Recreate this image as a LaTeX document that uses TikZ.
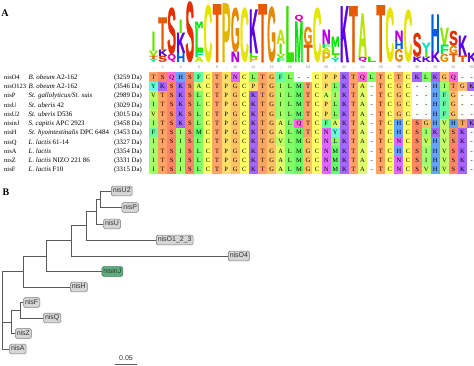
\documentclass[tikz,border=0pt]{standalone}
\usepackage{fontspec}
\setmainfont{Liberation Serif}
\setsansfont{Liberation Sans}
\newfontfamily\logofont[BoldFeatures={FakeBold=1.5}]{Liberation Sans}
\usepackage{graphicx}
\definecolor{tA}{HTML}{CCFF00}
\definecolor{tC}{HTML}{FFFF00}
\definecolor{tF}{HTML}{00FF66}
\definecolor{tG}{HTML}{FF9900}
\definecolor{tH}{HTML}{0066FF}
\definecolor{tI}{HTML}{66FF00}
\definecolor{tK}{HTML}{6600FF}
\definecolor{tL}{HTML}{33FF00}
\definecolor{tM}{HTML}{00FF00}
\definecolor{tN}{HTML}{CC00FF}
\definecolor{tP}{HTML}{FFCC00}
\definecolor{tQ}{HTML}{FF00CC}
\definecolor{tS}{HTML}{FF3300}
\definecolor{tT}{HTML}{FF6600}
\definecolor{tV}{HTML}{99FF00}
\definecolor{tY}{HTML}{00FFCC}
\definecolor{branchc}{HTML}{5A5A5A}
\definecolor{leaff}{HTML}{D6D6D6}
\definecolor{leafd}{HTML}{7A7A7A}
\definecolor{greenf}{HTML}{5FAE7E}
\definecolor{greend}{HTML}{3C7A55}
\tikzset{
  cell/.style={inner sep=0pt, minimum width=9.3pt, minimum height=9.45pt,
    text height=4.4pt, text depth=0pt, font=\fontsize{6.5}{7}\selectfont},
  lbl/.style={inner sep=0pt, anchor=base west, font=\fontsize{6.5}{7}\selectfont},
  spc/.style={inner sep=0pt, anchor=base west, font=\fontsize{6.9}{7}\selectfont},
  da/.style={inner sep=0pt, anchor=base east, font=\fontsize{6.8}{7}\selectfont},
  leaf/.style={anchor=west, draw=leafd, fill=leaff, rounded corners=1.5pt,
    line width=0.5pt, inner xsep=1.5pt, inner ysep=1.6pt, text height=5pt,
    text depth=1.4pt, text=black!80, font=\fontsize{7}{7}\sffamily\selectfont},
  branch/.style={draw=branchc, line width=0.8pt},
  panel/.style={inner sep=0pt, font=\fontsize{10}{11}\selectfont\bfseries},
  num/.style={inner sep=0pt, text=black!45, font=\fontsize{3.8}{4}\sffamily\selectfont}
}
\newcommand\alnrow[2]{%
  \foreach \aa [count=\ci] in {#2} {%
    \pgfmathsetmacro\cx{153.5+(\ci-1)*9.09}%
    \pgfmathsetmacro\cy{77+#1*9.25}%
    \if\aa x
      \node[cell, fill=white] (r#1c\ci) at (\cx,\cy) {-};
    \else
      \node[cell, fill=t\aa!60] (r#1c\ci) at (\cx,\cy) {\aa};
    \fi
  }}
\newcommand\logoL[5][8.8]{%
  \pgfmathsetmacro\lgx{153.5+(#2-1)*9.09}%
  \pgfmathsetlengthmacro\lgh{(#4-#3)*1pt}%
  \node[inner sep=0pt, anchor=south, text=t#5!90!black] (lg#2#5) at (\lgx,#4)
    {\resizebox*{#1pt}{\lgh}{\logofont\bfseries #5}};}
\begin{document}
\begin{tikzpicture}[x=1pt,y=-1pt]
\useasboundingbox (0,0) rectangle (474,366);
% panel labels
\node[panel] (pA) at (5,13.5) {A};
\node[panel] (pB) at (6,192) {B};
% ---------- logo ----------
\logoL[3.6]{1}{32}{51}{I}\logoL{1}{51}{56}{V}\logoL{1}{56}{59}{T}\logoL{1}{59}{62}{Y}
\logoL{2}{18}{50}{T}\logoL{2}{50}{56}{K}\logoL{2}{56}{62}{S}
\logoL{3}{8}{54}{S}\logoL{3}{54}{62}{Q}
\logoL[3.6]{4}{20}{33}{I}\logoL{4}{33}{53}{K}\logoL{4}{53}{62}{H}
\logoL{5}{2}{62}{S}
\logoL{6}{22}{28}{M}\logoL{6}{28}{52}{L}\logoL{6}{52}{57}{F}\logoL{6}{57}{62}{A}
\logoL{7}{5}{62}{C}
\logoL{8}{5}{62}{T}
\logoL{9}{4}{62}{P}
\logoL{10}{8}{52}{G}\logoL{10}{52}{62}{N}
\logoL{11}{8}{62}{C}
\logoL{12}{10}{53}{K}\logoL{12}{53}{57}{L}\logoL{12}{57}{62}{P}
\logoL{13}{5}{62}{T}
\logoL{14}{7}{62}{G}
\logoL{15}{30}{44}{A}\logoL[3.6]{15}{44}{54}{I}\logoL{15}{54}{58}{V}\logoL{15}{58}{62}{F}
\logoL{16}{7}{62}{L}
\logoL{17}{15}{22}{Q}\logoL{17}{22}{62}{M}
\logoL{18}{27}{45}{G}\logoL{18}{45}{62}{T}
\logoL{19}{8}{62}{C}
\logoL{20}{30}{44}{N}\logoL{20}{44}{48}{F}\logoL{20}{48}{52}{A}\logoL{20}{52}{62}{P}
\logoL{21}{37}{47}{M}\logoL{21}{47}{55}{L}\logoL[3.6]{21}{55}{58}{I}\logoL{21}{58}{62}{Y}
\logoL{22}{7}{62}{K}
\logoL{23}{7}{62}{T}
\logoL{24}{14}{57}{A}\logoL{24}{57}{62}{Q}
\logoL{25}{57}{62}{L}
\logoL{26}{6}{62}{T}
\logoL{27}{8}{62}{C}
\logoL{28}{31}{41}{N}\logoL{28}{41}{49}{H}\logoL{28}{49}{62}{G}
\logoL{29}{10}{62}{C}
\logoL{30}{33}{57}{S}\logoL{30}{57}{62}{K}
\logoL{31}{43}{52}{Y}\logoL[3.6]{31}{52}{57}{I}\logoL{31}{57}{62}{K}
\logoL{32}{15}{52}{H}\logoL{32}{52}{62}{K}
\logoL{33}{28}{45}{V}\logoL{33}{45}{54}{F}\logoL{33}{54}{62}{G}
\logoL{34}{31}{46}{S}\logoL{34}{46}{54}{G}\logoL{34}{54}{62}{T}
\logoL{35}{36}{56}{K}\logoL{35}{56}{62}{T}
\logoL{36}{53}{62}{K}
\foreach \k in {2,4,...,36} {
  \pgfmathsetmacro\nx{153.5+(\k-1)*9.09}
  \node[num] (num\k) at (\nx,67) {\k};
}
\foreach \k in {1,3,...,35} {
  \pgfmathsetmacro\nx{153.5+(\k-1)*9.09}
  \fill[black!40] (\nx,67.8) circle (0.35pt);
}
% ---------- alignment ----------
\alnrow{0}{T,S,Q,H,S,F,C,T,P,N,C,L,T,G,F,L,x,x,C,P,P,K,T,Q,L,T,C,T,C,K,L,K,G,Q,x,x}
\alnrow{1}{Y,K,S,K,S,A,C,T,P,G,C,P,T,G,I,L,M,T,C,P,L,K,T,A,x,T,C,G,C,x,x,H,I,T,G,K}
\alnrow{2}{V,T,S,K,S,L,C,T,P,G,C,K,T,G,I,L,M,T,C,A,I,K,T,A,x,T,C,G,C,x,x,H,F,G,x,x}
\alnrow{3}{I,T,S,K,S,L,C,T,P,G,C,K,T,G,I,L,M,T,C,P,L,K,T,A,x,T,C,G,C,x,x,H,F,G,x,x}
\alnrow{4}{V,T,S,K,S,L,C,T,P,G,C,K,T,G,I,L,M,T,C,P,L,K,T,A,x,T,C,G,C,x,x,H,F,G,x,x}
\alnrow{5}{I,T,S,K,S,L,C,T,P,G,C,K,T,G,A,L,Q,T,C,F,A,K,T,A,x,T,C,H,C,S,G,H,V,H,T,K}
\alnrow{6}{F,T,S,I,S,M,C,T,P,G,C,K,T,G,A,L,M,T,C,N,Y,K,T,A,x,T,C,H,C,S,I,K,V,S,K,x}
\alnrow{7}{I,T,S,I,S,L,C,T,P,G,C,K,T,G,V,L,M,G,C,N,L,K,T,A,x,T,C,N,C,S,V,H,V,S,K,x}
\alnrow{8}{I,T,S,I,S,L,C,T,P,G,C,K,T,G,A,L,M,G,C,N,M,K,T,A,x,T,C,H,C,S,I,H,V,S,K,x}
\alnrow{9}{I,T,S,I,S,L,C,T,P,G,C,K,T,G,A,L,M,G,C,N,M,K,T,A,x,T,C,N,C,S,I,H,V,S,K,x}
\alnrow{10}{I,T,S,I,S,L,C,T,P,G,C,K,T,G,A,L,M,G,C,N,M,K,T,A,x,T,C,N,C,S,V,H,V,S,K,x}
% row labels
\node[lbl] (g0) at (4,79.3) {nisO4};
\node[spc] (s0) at (28.5,79.3) {\textit{B. obeum} A2-162};
\node[da] (d0) at (142,79.3) {(3259 Da)};
\node[lbl] (g1) at (4,88.55) {nisO123};
\node[spc] (s1) at (28.5,88.55) {\textit{B. obeum} A2-162};
\node[da] (d1) at (142,88.55) {(3546 Da)};
\node[lbl] (g2) at (4,97.8) {nisP};
\node[spc] (s2) at (28.5,97.8) {\textit{St. gallolyticus/St. suis}};
\node[da] (d2) at (142,97.8) {(2989 Da)};
\node[lbl] (g3) at (4,107.05) {nisU};
\node[spc] (s3) at (28.5,107.05) {\textit{St. uberis} 42};
\node[da] (d3) at (142,107.05) {(3029 Da)};
\node[lbl] (g4) at (4,116.3) {nisU2};
\node[spc] (s4) at (28.5,116.3) {\textit{St. uberis} D536};
\node[da] (d4) at (142,116.3) {(3015 Da)};
\node[lbl] (g5) at (4,125.55) {nisinJ};
\node[spc] (s5) at (28.5,125.55) {\textit{S. capitis} APC 2923};
\node[da] (d5) at (142,125.55) {(3458 Da)};
\node[lbl] (g6) at (4,134.8) {nisH};
\node[spc] (s6) at (28.5,134.8) {\textit{St. hyointestinalis} DPC 6484};
\node[da] (d6) at (142,134.8) {(3453 Da)};
\node[lbl] (g7) at (4,144.05) {nisQ};
\node[spc] (s7) at (28.5,144.05) {\textit{L. lactis} 61-14};
\node[da] (d7) at (142,144.05) {(3327 Da)};
\node[lbl] (g8) at (4,153.3) {nisA};
\node[spc] (s8) at (28.5,153.3) {\textit{L. lactis}};
\node[da] (d8) at (142,153.3) {(3354 Da)};
\node[lbl] (g9) at (4,162.55) {nisZ};
\node[spc] (s9) at (28.5,162.55) {\textit{L. lactis} NIZO 221 86};
\node[da] (d9) at (142,162.55) {(3331 Da)};
\node[lbl] (g10) at (4,171.8) {nisF};
\node[spc] (s10) at (28.5,171.8) {\textit{L. lactis} F10};
\node[da] (d10) at (142,171.8) {(3315 Da)};
% ---------- tree ----------
\node[leaf] (nisU2) at (111,191) {nisU2};
\node[leaf] (nisP) at (121.7,207.5) {nisP};
\node[leaf] (nisU) at (103.3,224) {nisU};
\node[leaf] (nisO123) at (156,240) {nisO1\_2\_3};
\node[leaf] (nisO4) at (228,256) {nisO4};
\node[leaf, fill=greenf, draw=greend] (nisinJ) at (101.7,271.5) {nisinJ};
\node[leaf] (nisH) at (70,287) {nisH};
\node[leaf] (nisF) at (23.3,302.5) {nisF};
\node[leaf] (nisQ) at (43.3,318) {nisQ};
\node[leaf] (nisZ) at (15,333.5) {nisZ};
\node[leaf] (nisA) at (9.3,349) {nisA};
\coordinate (n1) at (100,199.25);
\coordinate (n2) at (96,211.6);
\coordinate (n3) at (86.7,225.8);
\coordinate (n4) at (71.7,240.9);
\coordinate (n5) at (46.7,256.2);
\coordinate (n6) at (23.3,271.6);
\coordinate (n7) at (20,310.25);
\coordinate (n8) at (11.7,321.9);
\coordinate (root) at (2.7,310);
\draw[branch] (n1) |- (nisU2.west);
\draw[branch] (n1) |- (nisP.west);
\draw[branch] (n2) |- (n1);
\draw[branch] (n2) |- (nisU.west);
\draw[branch] (n3) |- (n2);
\draw[branch] (n3) |- (nisO123.west);
\draw[branch] (n4) |- (n3);
\draw[branch] (n4) |- (nisO4.west);
\draw[branch] (n5) |- (n4);
\draw[branch] (n5) |- (nisinJ.west);
\draw[branch] (n6) |- (n5);
\draw[branch] (n6) |- (nisH.west);
\draw[branch] (root) |- (n6);
\draw[branch] (root) |- (n8);
\draw[branch] (root) |- (nisA.west);
\draw[branch] (n8) |- (n7);
\draw[branch] (n8) |- (nisZ.west);
\draw[branch] (n7) |- (nisF.west);
\draw[branch] (n7) |- (nisQ.west);
% scale bar
\node[inner sep=0pt, font=\fontsize{7}{7}\sffamily\selectfont, text=black!80] (sb) at (126,358) {0.05};
\coordinate (sbl) at (115,364.2);
\coordinate (sbr) at (137,364.2);
\draw[branch] (sbl) -- (sbr);
\end{tikzpicture}
\end{document}
